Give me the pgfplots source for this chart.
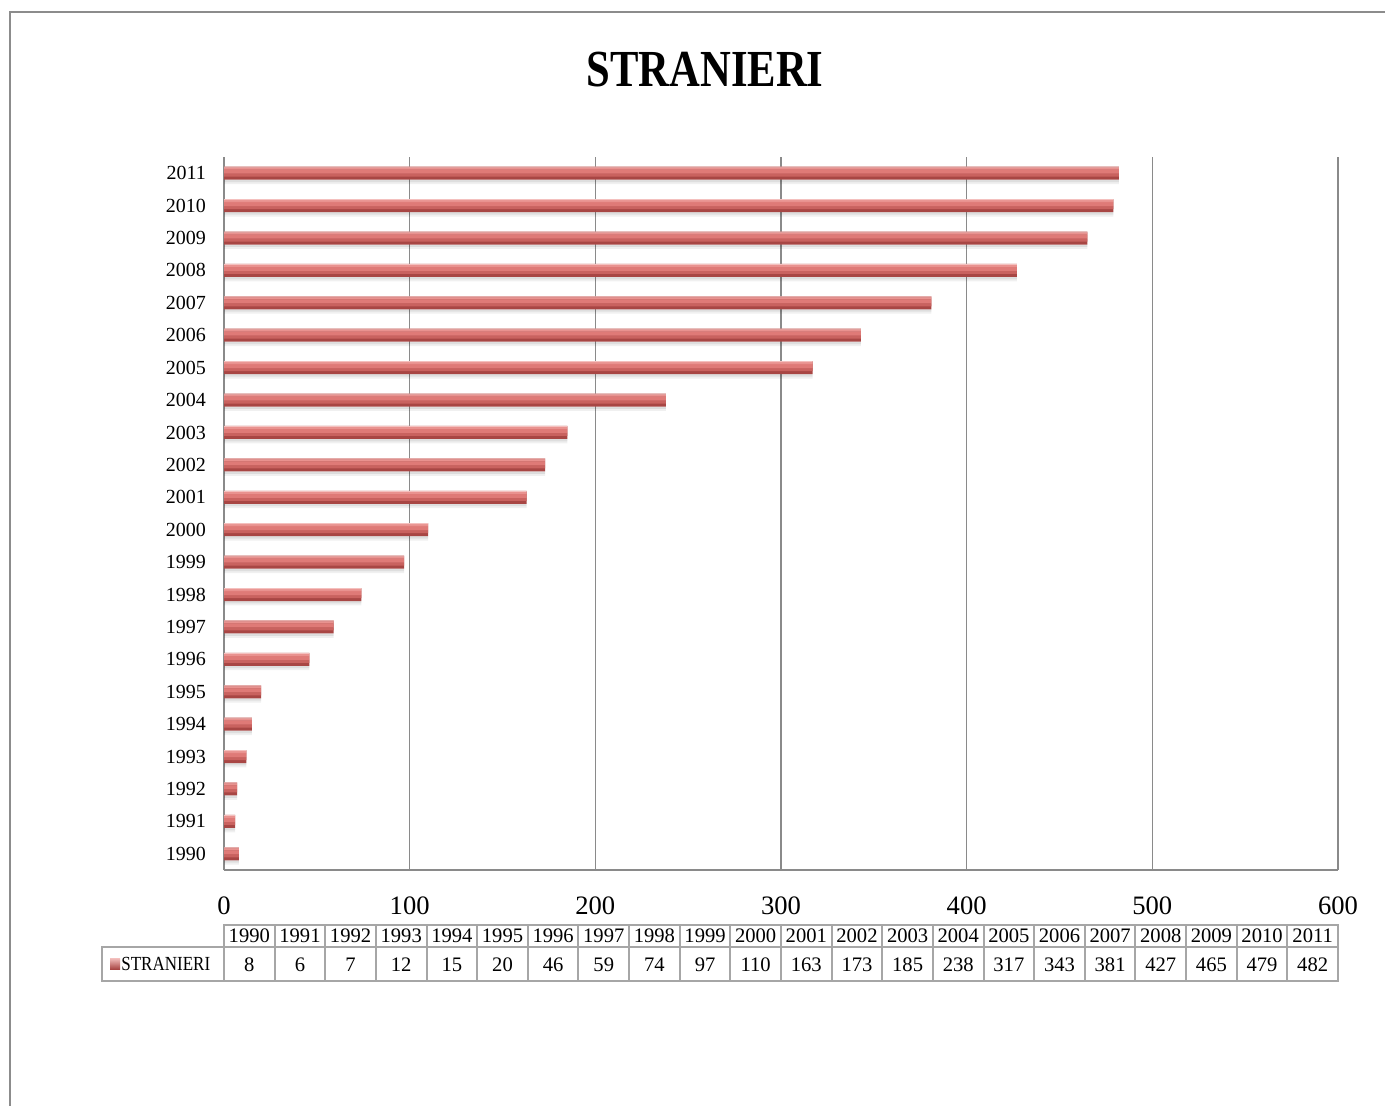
\documentclass[border=0pt]{standalone}
\usepackage{pgfplots}
\pgfplotsset{compat=1.18}
\usepackage{fontspec}
\setmainfont{Liberation Serif}
\usepackage{graphicx}
\definecolor{bA}{HTML}{F4C0BE}
\definecolor{bB}{HTML}{E9928F}
\definecolor{bC}{HTML}{DF7A77}
\definecolor{bD}{HTML}{C9625F}
\definecolor{bE}{HTML}{A84644}
\definecolor{framegray}{HTML}{8C8C8C}
\definecolor{gridgray}{HTML}{8A8A8A}
\definecolor{tabgray}{HTML}{A6A6A6}
\pgfplotstableread{
y  yr   v
0  1990 8
1  1991 6
2  1992 7
3  1993 12
4  1994 15
5  1995 20
6  1996 46
7  1997 59
8  1998 74
9  1999 97
10 2000 110
11 2001 163
12 2002 173
13 2003 185
14 2004 238
15 2005 317
16 2006 343
17 2007 381
18 2008 427
19 2009 465
20 2010 479
21 2011 482
}\datatable
\begin{document}
\begin{tikzpicture}
\useasboundingbox (0,0) rectangle (692.5pt,-553pt);
\draw[framegray, line width=0.8pt] (5pt,-560pt) -- (5pt,-6pt) -- (700pt,-6pt);
\begin{axis}[
  at={(112pt,-435pt)}, anchor=south west,
  scale only axis, width=557pt, height=356.5pt,
  xmin=0, xmax=600, ymin=-0.5, ymax=21.5,
  xbar, bar width=6pt,
  axis x line=bottom, axis y line=left,
  axis line style={draw=gridgray, line width=0.8pt, -},
  xmajorgrids, grid style={draw=gridgray, line width=0.8pt},
  major tick length=0pt,
  xtick={0,100,200,300,400,500,600},
  ytick={0,...,21},
  yticklabels={1990,1991,1992,1993,1994,1995,1996,1997,1998,1999,2000,2001,2002,2003,2004,2005,2006,2007,2008,2009,2010,2011},
  /pgf/number format/assume math mode=true,
  xticklabel style={font=\fontsize{13.3}{15}\selectfont, yshift=-10pt},
  yticklabel style={font=\fontsize{10}{12}\selectfont, xshift=-5.5pt},
]
% shadow
\addplot[draw=none, fill=black, fill opacity=0.13, bar width=1.2pt, bar shift=-3.85pt] table[x=v, y=y] {\datatable};
\addplot[draw=none, fill=black, fill opacity=0.06, bar width=1.0pt, bar shift=-4.95pt] table[x=v, y=y] {\datatable};
% bar layers
\addplot[draw=none, fill=bE, bar width=6.5pt, bar shift=0pt] table[x=v, y=y] {\datatable};
\addplot[draw=none, fill=bD, bar width=1.5pt, bar shift=-1.0pt] table[x=v, y=y] {\datatable};
\addplot[draw=none, fill=bC, bar width=2pt, bar shift=0.75pt] table[x=v, y=y] {\datatable};
\addplot[draw=none, fill=bB, bar width=1pt, bar shift=2.25pt] table[x=v, y=y] {\datatable};
\addplot[draw=none, fill=bA, bar width=0.5pt, bar shift=3.0pt] table[x=v, y=y] {\datatable};
\end{axis}
\begin{scope}[x=0.5pt, y=-0.5pt]
\node[font=\bfseries\fontsize{26}{30}\selectfont] at (705,70) {\scalebox{0.82}[1]{STRANIERI}};
\draw[tabgray, line width=1pt] (224,925) rectangle (1338,981);
\draw[tabgray, line width=1pt] (224,947) -- (1338,947);
\draw[tabgray, line width=1pt] (102,947) rectangle (224,981);
\foreach \yr/\v [count=\i from 0] in {1990/8,1991/6,1992/7,1993/12,1994/15,1995/20,1996/46,1997/59,1998/74,1999/97,2000/110,2001/163,2002/173,2003/185,2004/238,2005/317,2006/343,2007/381,2008/427,2009/465,2010/479,2011/482} {
  \pgfmathsetmacro\cx{224+50.636*(\i+0.5)}
  \pgfmathsetmacro\lx{224+50.636*\i}
  \draw[tabgray, line width=1pt] (\lx,925) -- (\lx,981);
  \node[font=\fontsize{10.3}{12}\selectfont] at (\cx,936) {\yr};
  \node[font=\fontsize{10.3}{12}\selectfont] at (\cx,964.5) {\v};
}
\shade[top color=bA, bottom color=bE] (110,958) rectangle (120,969);
\node[anchor=west, inner sep=0pt, font=\fontsize{10}{12}\selectfont] at (121,964) {\scalebox{0.85}[1]{STRANIERI}};
\end{scope}
\end{tikzpicture}
\end{document}
